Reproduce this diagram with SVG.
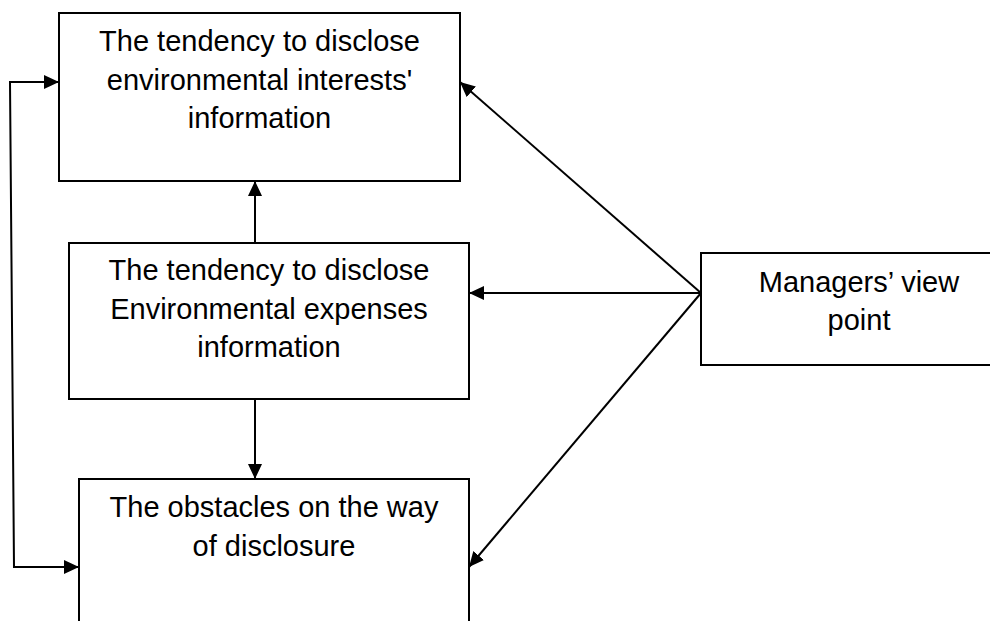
<svg xmlns="http://www.w3.org/2000/svg" width="990" height="621" viewBox="0 0 990 621">
<style>
.box{fill:#fff;stroke:#000;stroke-width:2}
.lbl{font-family:"Liberation Sans",Arial,sans-serif;font-size:29px;fill:#000;text-anchor:middle}
.conn{fill:none;stroke:#000;stroke-width:2}
</style>
<defs>
<marker id="arr" markerUnits="userSpaceOnUse" markerWidth="16" markerHeight="14" refX="15" refY="7" orient="auto-start-reverse">
<path d="M0,0 L15,7 L0,14 z" fill="#000"/>
</marker>
</defs>
<rect width="990" height="621" fill="#fff"/>
<g id="connectors">
<path class="conn" d="M59,82 L10,82 L14,567 L79,567" marker-start="url(#arr)" marker-end="url(#arr)"/>
<line class="conn" x1="255" y1="243" x2="255" y2="181" marker-end="url(#arr)"/>
<line class="conn" x1="255" y1="399" x2="255" y2="479" marker-end="url(#arr)"/>
<line class="conn" x1="701" y1="293" x2="460" y2="82" marker-end="url(#arr)"/>
<line class="conn" x1="701" y1="293" x2="469" y2="293" marker-end="url(#arr)"/>
<line class="conn" x1="701" y1="293" x2="469" y2="567" marker-end="url(#arr)"/>
</g>
<g id="interests">
<rect class="box" x="59" y="13" width="401" height="168"/>
<text class="lbl" x="259.5" y="51">The tendency to disclose</text>
<text class="lbl" x="259.5" y="89.5">environmental interests'</text>
<text class="lbl" x="259.5" y="128">information</text>
</g>
<g id="expenses">
<rect class="box" x="69" y="243" width="400" height="156"/>
<text class="lbl" x="269" y="280">The tendency to disclose</text>
<text class="lbl" x="269" y="318.5">Environmental expenses</text>
<text class="lbl" x="269" y="357">information</text>
</g>
<g id="obstacles">
<rect class="box" x="79" y="479" width="390" height="160"/>
<text class="lbl" x="274" y="517">The obstacles on the way</text>
<text class="lbl" x="274" y="556">of disclosure</text>
</g>
<g id="managers">
<rect class="box" x="701" y="253" width="316" height="112"/>
<text class="lbl" x="859" y="291.5">Managers’ view</text>
<text class="lbl" x="859" y="329.5">point</text>
</g>
</svg>
